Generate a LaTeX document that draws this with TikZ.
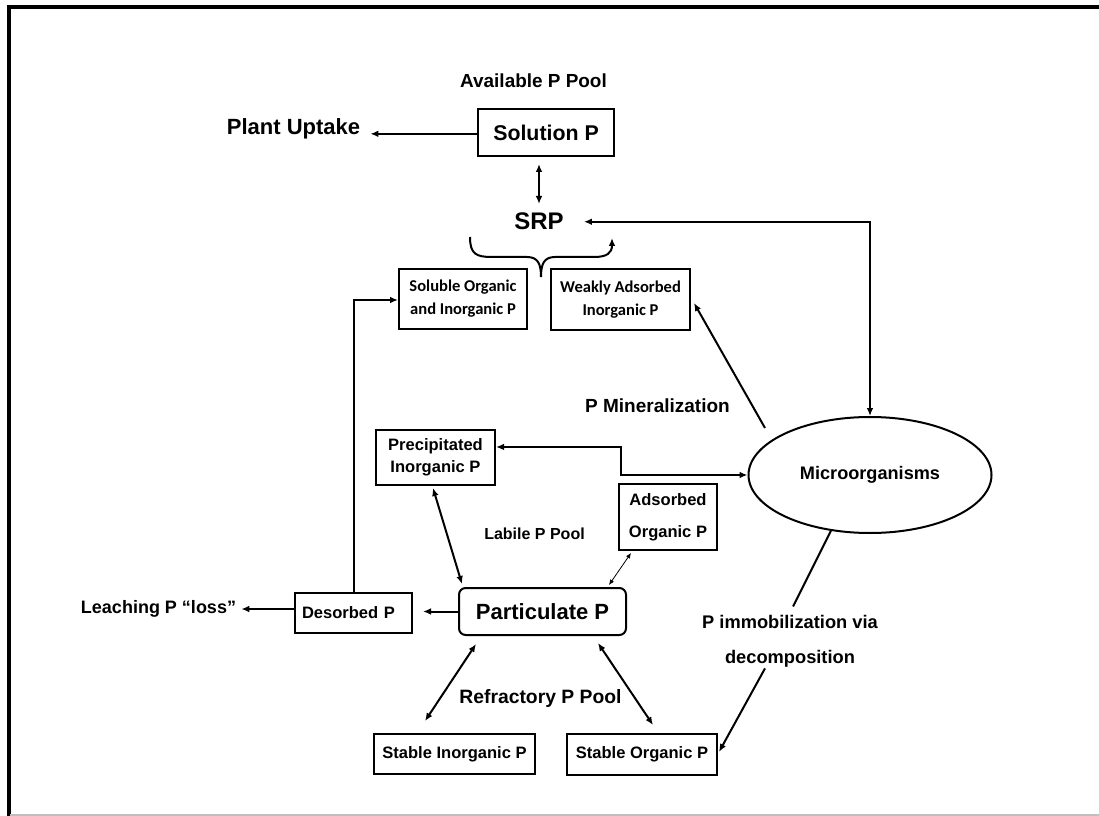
\documentclass[tikz,border=0pt]{standalone}
\usepackage{fontspec}
\setmainfont{Liberation Sans}
\newfontfamily\calfont{Carlito}
\usetikzlibrary{arrows.meta,shapes.geometric}
\newcommand\fsz[2]{\fontsize{#1pt}{#2pt}\selectfont}
\tikzset{
  ah/.tip={Latex[length=6pt,width=5pt]},
  sah/.tip={Latex[length=4pt,width=3.5pt]},
  arr/.style={line width=1.5pt,-{ah}},
  darr/.style={line width=1.5pt,{ah}-{ah}},
  line/.style={line width=1.5pt},
  box/.style={draw,line width=1.5pt,inner sep=0pt,align=center,font=\bfseries\fsz{12.4}{16.5}},
  cbox/.style={box,font=\calfont\bfseries\fsz{12.4}{17.25}},
  lbl/.style={inner sep=0pt,anchor=base},
}
\begin{document}
\begin{tikzpicture}[x=0.75pt,y=-0.75pt]
\useasboundingbox (0,0) rectangle (1099,816);
\fill[white] (0,0) rectangle (1099,816);
% frame
\draw[line width=2.5pt] (9,816) -- (9,7) -- (1099,7);
\draw[black!25,line width=1.5pt] (10,814.5) -- (1099,814.5);

% boxes
\node[box,minimum width=102pt,minimum height=35.25pt,font=\bfseries\fsz{16}{16}] (solP) at (546,132.5) {Solution P};
\node[cbox,minimum width=96pt,minimum height=45pt] (sol) at (463,299) {Soluble Organic\\and Inorganic P};
\node[cbox,minimum width=104.25pt,minimum height=45.75pt] (weak) at (620.5,299.5) {Weakly Adsorbed\\Inorganic P};
\node[box,minimum width=89.25pt,minimum height=41.25pt] (prec) at (435.5,457.5) {Precipitated\\Inorganic P};
\node[box,minimum width=73.5pt,minimum height=49.5pt,font=\bfseries\fsz{12.4}{24}] (ads) at (668,517) {Adsorbed\\Organic P};
\node[box,minimum height=30pt,text width=77.25pt,inner xsep=5.25pt,align=left] (des) at (353.5,613) {Desorbed P};
\node[box,rounded corners=5pt,minimum width=125.25pt,minimum height=35.25pt,font=\bfseries\fsz{16.5}{16.5}] (part) at (542.5,611.5) {Particulate P};
\node[box,minimum width=120.75pt,minimum height=30pt] (stin) at (454.5,754) {Stable Inorganic P};
\node[box,minimum width=112.5pt,minimum height=30.75pt] (stor) at (642,754.5) {Stable Organic P};
\node[draw,ellipse,line width=1.5pt,minimum width=182.25pt,minimum height=87pt,inner sep=0pt,font=\bfseries\fsz{13.6}{13.6}] (micro) at (870,475) {Microorganisms};

% labels
\node[lbl,font=\bfseries\fsz{14.2}{14.2}] (avail) at (533.5,88) {Available P Pool};
\node[lbl,font=\bfseries\fsz{16.5}{16.5}] (plant) at (293.5,135) {Plant Uptake};
\node[lbl,font=\bfseries\fsz{18}{18}] (srp) at (539,230) {SRP};
\node[lbl,font=\bfseries\fsz{14.25}{14.25}] (mineral) at (657.5,412) {P Mineralization};
\node[lbl,font=\bfseries\fsz{12}{12}] (labile) at (534.5,539) {Labile P Pool};
\node[lbl,font=\bfseries\fsz{13.7}{13.7}] (immob) at (790,628) {P immobilization via};
\node[lbl,font=\bfseries\fsz{13.7}{13.7}] (decomp) at (790,663) {decomposition};
\node[lbl,font=\bfseries\fsz{14.5}{14.5}] (refr) at (540.5,703) {Refractory P Pool};
\node[lbl,font=\bfseries\fsz{13.5}{13.5}] (leach) at (158.5,613) {Leaching P “loss”};

% connectors
\draw[arr,shorten >=7.5pt] ([yshift=-1pt]solP.west) -- ([yshift=-1pt]solP.west -| plant.east);
\draw[darr,shorten <=6.75pt,shorten >=5.25pt] (srp.north) -- (srp.north |- solP.south);
\draw[darr,shorten >=15pt] (micro.north) -- (micro.north |- srp.east) -- (srp.east);

% brace from the two pools to SRP
\coordinate (bl) at (470,237);
\coordinate (btip) at (541,277);
\coordinate (br) at (612,238);
\draw[arr] (bl) .. controls (470,254) and (476,257) .. (492,257) -- (527,257)
  .. controls (538,257) and (541,264) .. (btip)
  .. controls (541,264) and (544,257) .. (555,257) -- (594,257)
  .. controls (607,257) and (612,253) .. (br);

\draw[arr] (des.north) |- ([yshift=-0.75pt]sol.west);
\coordinate (mw) at (765,428);
\draw[arr] (mw) -- ([shift={(2.25pt,-2.6pt)}]weak.east);
\draw[darr] ([yshift=7.9pt]prec.east) -- ++(125,0) |- (micro.west);
\draw[darr] ([shift={(-1.9pt,-1.5pt)}]prec.south) -- ([shift={(3pt,2.25pt)}]part.north west);
\draw[line width=0.6pt,{sah}-{sah}] ([shift={(9.75pt,-1.5pt)}]ads.south west) -- ([shift={(-13.5pt,1.5pt)}]part.north east);
\draw[arr,shorten >=7.5pt] (part.west) -- (part.west -| des.east);
\draw[arr,shorten >=3.75pt] ([yshift=3pt]des.west) -- ([yshift=3pt]des.west -| leach.east);
\draw[darr] ([shift={(13.5pt,-6pt)}]part.south west) -- ([shift={(-22.1pt,9pt)}]stin.north);
\draw[darr] ([shift={(-21.75pt,-5.25pt)}]part.south east) -- ([shift={(8.25pt,6pt)}]stor.north);
\draw[line] (micro.235) -- ([shift={(2.25pt,6pt)}]immob.north);
\draw[arr] ([xshift=-18.75pt,yshift=-1pt]decomp.south) -- ([shift={(0.75pt,1.9pt)}]stor.east);
\end{tikzpicture}
\end{document}
